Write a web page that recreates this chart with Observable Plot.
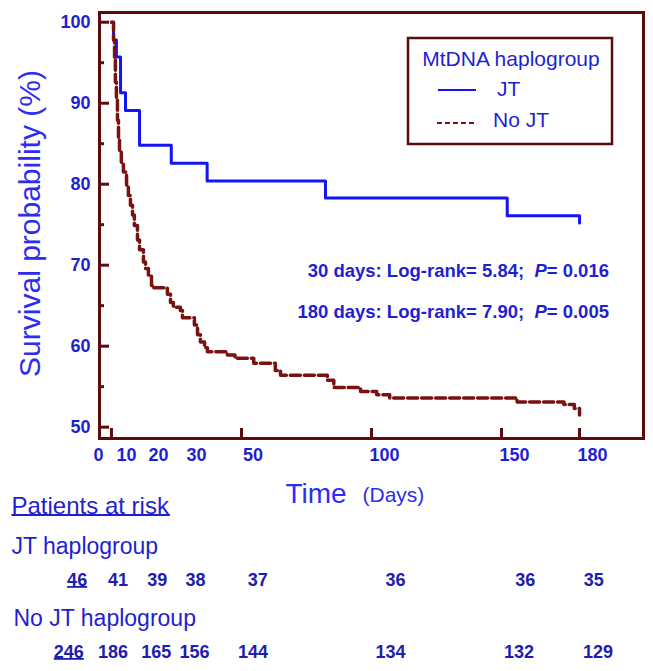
<!DOCTYPE html>
<html>
<head>
<meta charset="utf-8">
<script src="https://cdn.jsdelivr.net/npm/d3@7"></script>
<script src="https://cdn.jsdelivr.net/npm/@observablehq/plot@0.6"></script>
<style>
html,body{margin:0;padding:0;background:#fff;}
#wrap{position:relative;width:653px;height:671px;}
#wrap svg{display:block;}
</style>
</head>
<body>
<div id="wrap"></div>
<script>
// ---- data ----
const jtTime = [0, 0.8, 1.9, 3.5, 5.4, 10.8, 23, 36.8, 82.3, 152.2, 180];
const jtSurv = [100, 97.8, 95.7, 91.3, 89.1, 84.8, 82.6, 80.4, 78.3, 76.1, 75.2];

const noJtTime = [0, 0.8, 1.2, 1.5, 1.9, 2.3, 2.7, 3.1, 3.8, 4.6, 5.8, 6.5, 7.3, 8.1, 8.8, 10, 10.8, 12.3, 13.1, 14.2, 15.4, 16.2, 21.5, 22.7, 23.8, 26.5, 27.3, 31.9, 33.1, 34.2, 35.8, 36.9, 44.6, 47.5, 54.7, 63, 65, 83, 85.5, 95.8, 102, 107, 156, 174, 178, 180];
const noJtSurv = [100, 97.8, 95.3, 92.6, 90.4, 87.9, 85.7, 84.2, 82.7, 81.5, 79.9, 78.6, 77.4, 76.2, 74.9, 73.1, 71.9, 70.4, 69.6, 68.8, 67.5, 67.2, 66.4, 65.4, 64.8, 64.4, 63.5, 62.6, 61.4, 60.5, 59.8, 59.3, 58.9, 58.5, 57.9, 57.0, 56.4, 55.8, 54.9, 54.4, 54.0, 53.6, 53.1, 52.8, 52.3, 51.5];

const xTicks = [0, 50, 100, 150, 180];
const xTickLabels = ["0", "10", "20", "30", "50", "100", "150", "180"];
const xTickLabelAt = [-5, 5.8, 18.1, 32.7, 54.4, 105, 155, 185];
const yMajor = [50, 60, 70, 80, 90, 100];
const yMinor = [55, 65, 75, 85, 95];

const riskJT = [46, 41, 39, 38, 37, 36, 36, 35];
const riskJTAt = [-13.2, 2.5, 17.6, 32.3, 56.3, 109.2, 159.1, 185.5];
const riskNoJT = [246, 186, 165, 156, 144, 134, 132, 129];
const riskNoJTAt = [-16.4, 0.6, 17.2, 31.9, 54.4, 107.3, 156.7, 187.1];

const seriesNames = ["JT", "No JT"];
const legendTitle = "MtDNA haplogroup";
const statLabels = ["30 days", "180 days"];
const statLogRank = ["5.84", "7.90"];
const statP = ["0.016", "0.005"];

// ---- styles ----
const FRAME = "#5e0b0b";
const RED = "#7a1212";
const BLUE = "#1414f5";
const TXT = "#1f1fd2";
const TITLE = "#2d2df2";
const NUM = "#1d1db0";
const FONT = "'Liberation Sans', Arial, sans-serif";

const jt = jtTime.map((t, i) => ({t, s: jtSurv[i]}));
const noJt = noJtTime.map((t, i) => ({t, s: noJtSurv[i]}));

const W = 653, H = 671;
const mL = 99, mT = 12, mR = 10, mB = 233;
const innerW = W - mL - mR, innerH = H - mT - mB;

const chart = Plot.plot({
  width: W, height: H,
  marginLeft: mL, marginTop: mT, marginRight: mR, marginBottom: mB,
  x: {domain: [-4.6, 204.6], axis: null},
  y: {domain: [48.6, 101.2], axis: null},
  style: {fontFamily: FONT, background: "white", overflow: "visible"},
  marks: [
    Plot.line(jt, {x: "t", y: "s", curve: "step-after", stroke: BLUE, strokeWidth: 3}),
    Plot.line(noJt, {x: "t", y: "s", curve: "step-after", stroke: RED, strokeWidth: 3.5, strokeDasharray: "10,4"}),
    Plot.ruleX(xTicks, {x: d => d, stroke: FRAME, strokeWidth: 3, insetTop: innerH - 10}),
    Plot.ruleY(yMajor, {y: d => d, stroke: FRAME, strokeWidth: 3, insetRight: innerW - 10}),
    Plot.ruleY(yMinor, {y: d => d, stroke: FRAME, strokeWidth: 3, insetRight: innerW - 5}),
    Plot.frame({stroke: FRAME, strokeWidth: 3}),
    // y tick labels
    Plot.text(yMajor, {y: d => d, text: d => String(d), frameAnchor: "left", textAnchor: "end", dx: -9, fill: TXT, fontSize: 18, fontWeight: "bold"}),
    // x tick labels
    Plot.text(xTickLabels, {x: (d, i) => xTickLabelAt[i], text: d => d, frameAnchor: "bottom", lineAnchor: "top", dy: 10, fill: TXT, fontSize: 18, fontWeight: "bold"}),
    // axis titles
    Plot.text(["Survival probability (%)"], {text: d => d, frameAnchor: "left", textAnchor: "middle", rotate: -90, dx: -69, dy: -2, fill: TITLE, fontSize: 30}),
    Plot.text(["Time"], {text: d => d, frameAnchor: "bottom-left", textAnchor: "start", lineAnchor: "bottom", dx: 186, dy: 64, fill: TITLE, fontSize: 28}),
    Plot.text(["(Days)"], {text: d => d, frameAnchor: "bottom-left", textAnchor: "start", lineAnchor: "bottom", dx: 263, dy: 63, fill: TITLE, fontSize: 21}),
    // risk table
    Plot.text(["Patients at risk"], {text: d => d, frameAnchor: "bottom-left", textAnchor: "start", lineAnchor: "bottom", dx: -88, dy: 75, fill: TXT, fontSize: 24}),
    Plot.text(["JT haplogroup"], {text: d => d, frameAnchor: "bottom-left", textAnchor: "start", lineAnchor: "bottom", dx: -88, dy: 115, fill: TXT, fontSize: 23}),
    Plot.text(["No JT haplogroup"], {text: d => d, frameAnchor: "bottom-left", textAnchor: "start", lineAnchor: "bottom", dx: -86, dy: 187, fill: TXT, fontSize: 23}),
    Plot.text(riskJT, {x: (d, i) => riskJTAt[i], text: d => String(d), frameAnchor: "bottom", lineAnchor: "bottom", dy: 147, fill: NUM, fontSize: 18, fontWeight: "bold"}),
    Plot.text(riskNoJT, {x: (d, i) => riskNoJTAt[i], text: d => String(d), frameAnchor: "bottom", lineAnchor: "bottom", dy: 219, fill: NUM, fontSize: 18, fontWeight: "bold"})
  ]
});

const svg = d3.select(chart);

// legend
const lg = svg.append("g").attr("font-family", FONT).attr("text-anchor", "start");
lg.append("rect").attr("x", 408).attr("y", 38).attr("width", 204).attr("height", 106)
  .attr("fill", "white").attr("stroke", FRAME).attr("stroke-width", 2.5);
lg.append("text").attr("x", 511).attr("y", 66).attr("text-anchor", "middle").attr("font-size", 21).attr("fill", TXT).text(legendTitle);
lg.append("line").attr("x1", 438).attr("x2", 476).attr("y1", 90).attr("y2", 90).attr("stroke", BLUE).attr("stroke-width", 2);
lg.append("text").attr("x", 497).attr("y", 96).attr("font-size", 21).attr("fill", TXT).text(seriesNames[0]);
lg.append("line").attr("x1", 437).attr("x2", 477).attr("y1", 123).attr("y2", 123).attr("stroke", RED).attr("stroke-width", 2).attr("stroke-dasharray", "5,3");
lg.append("text").attr("x", 493).attr("y", 127).attr("font-size", 21).attr("fill", TXT).text(seriesNames[1]);

// statistics annotations
const statY = [277, 318];
statLabels.forEach((lab, i) => {
  const t = svg.append("text").attr("x", 609).attr("y", statY[i]).attr("text-anchor", "end")
    .attr("font-family", FONT).attr("font-weight", "bold").attr("font-size", 18.5).attr("fill", TXT);
  t.append("tspan").text(`${lab}: Log-rank= ${statLogRank[i]};\u00a0 `);
  t.append("tspan").attr("font-style", "italic").text("P");
  t.append("tspan").text(`= ${statP[i]}`);
});

document.getElementById("wrap").appendChild(chart);

// underlines below the header and the baseline counts
const underlined = ["Patients at risk", String(riskJT[0]), String(riskNoJT[0])];
svg.selectAll("text").filter(function () { return underlined.includes(this.textContent); })
  .each(function () {
    const b = this.getBBox();
    const color = this.closest("g") ? (this.closest("g").getAttribute("fill") || TXT) : TXT;
    d3.select(this.parentNode).append("line")
      .attr("transform", this.getAttribute("transform"))
      .attr("x1", b.x).attr("x2", b.x + b.width)
      .attr("y1", b.y + b.height * 0.87).attr("y2", b.y + b.height * 0.87)
      .attr("stroke", color).attr("stroke-width", 1.8);
  });
</script>
</body>
</html>
